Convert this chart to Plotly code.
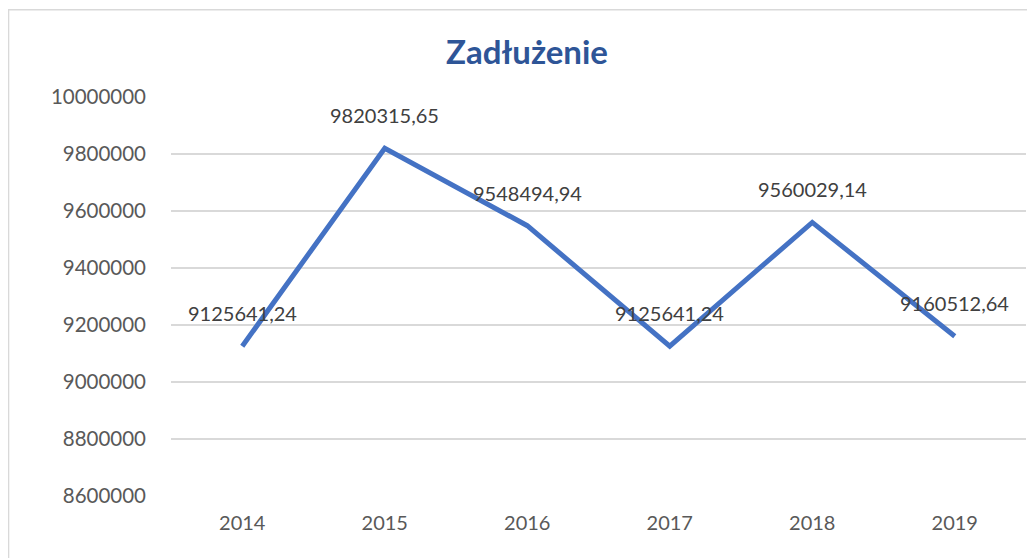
import plotly.graph_objects as go

# dane
lata = ['2014', '2015', '2016', '2017', '2018', '2019']
zadluzenie = [9125641.24, 9820315.65, 9548494.94, 9125641.24, 9560029.14, 9160512.64]
y_ticks = [8600000, 8800000, 9000000, 9200000, 9400000, 9600000, 9800000, 10000000]

FONT = 'Lato'
SZARY = '#595959'

fig = go.Figure()
fig.add_trace(go.Scatter(x=lata, y=zadluzenie, mode='lines',
                         line=dict(color='#4472C4', width=5),
                         hoverinfo='x+y', showlegend=False))

# etykiety danych (format z przecinkiem); x jako indeks kategorii
for i, v in enumerate(zadluzenie):
    fig.add_annotation(x=i, y=v, text=f'{v:.2f}'.replace('.', ','),
                       showarrow=False, yshift=33,
                       font=dict(family=FONT, size=20, color='#404040'))

# ramka wykresu
fig.add_shape(type='rect', xref='paper', yref='paper',
              x0=-0.19, x1=1.03, y0=-0.2, y1=1.2188,
              line=dict(color='#D9D9D9', width=1.5), layer='below')

fig.update_layout(
    width=1027, height=550,
    margin=dict(l=163, r=9, t=89, b=62),
    paper_bgcolor='white', plot_bgcolor='white',
    title=dict(text='<b>Zadłużenie</b>', x=519 / 1027, xanchor='center', xref='container',
               y=1 - 44 / 550, yanchor='middle', yref='container',
               font=dict(family=FONT, size=33, color='#2E5597')),
    font=dict(family=FONT, color=SZARY),
    xaxis=dict(type='category', range=[-0.5, 5.5], showgrid=False,
               showline=False, zeroline=False,
               tickfont=dict(family=FONT, size=20, color=SZARY),
               ticklabelstandoff=13),
    yaxis=dict(range=[8600000, 10000000], tickvals=y_ticks, tickformat='d',
               showgrid=True, gridcolor='#D9D9D9', gridwidth=1.5,
               zeroline=False, showline=False,
               tickfont=dict(family=FONT, size=20.5, color=SZARY),
               ticklabelstandoff=24),
)

fig.write_html('out.html')
